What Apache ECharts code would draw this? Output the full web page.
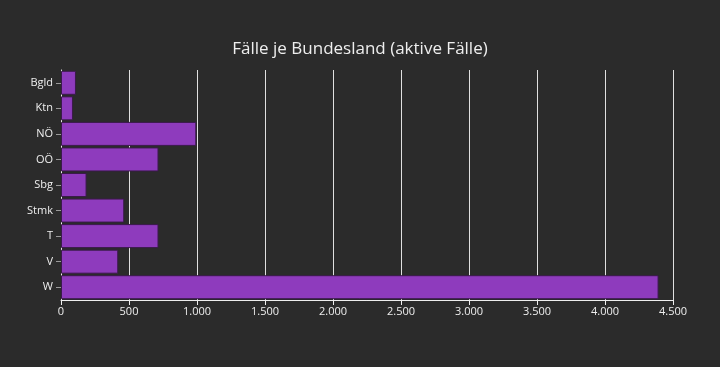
<!DOCTYPE html>
<html><head><meta charset="utf-8">
<script src="https://cdn.jsdelivr.net/npm/echarts@6/dist/echarts.min.js"></script>
<style>html,body{margin:0;padding:0;background:#2b2b2b;}#c{width:720px;height:367px;}</style>
</head><body><div id="c"></div>
<script>
const categories = ["Bgld","Ktn","NÖ","OÖ","Sbg","Stmk","T","V","W"];
const activeCases = [110, 88, 995, 717, 188, 465, 717, 421, 4394];
const xTicks = [0,500,1000,1500,2000,2500,3000,3500,4000,4500];

const chart = echarts.init(document.getElementById('c'), null, {renderer:'canvas'});
const fontFam = '"Open Sans", "Noto Sans", sans-serif';
chart.setOption({
  backgroundColor:'#2b2b2b',
  animation:false,
  title:{text:'Fälle je Bundesland (aktive Fälle)', left:'center', top:36,
    textStyle:{color:'#eeeeee', fontSize:17, fontWeight:'normal', fontFamily:fontFam}},
  grid:{left:61, right:47, top:70, bottom:67, containLabel:false},
  xAxis:{type:'value', min:xTicks[0], max:xTicks[xTicks.length-1], interval:500,
    axisLine:{show:true, lineStyle:{color:'#eeeeee', width:1}},
    axisTick:{show:true, length:5, lineStyle:{color:'#eeeeee'}},
    axisLabel:{color:'#eeeeee', fontSize:11, fontFamily:fontFam, margin:6,
      formatter:v=>v.toLocaleString('de-DE')},
    splitLine:{show:true, lineStyle:{color:'#e0e0e0', width:1}}},
  yAxis:{type:'category', data:categories, inverse:true,
    axisLine:{show:true, lineStyle:{color:'#eeeeee', width:1}},
    axisTick:{show:true, length:5, alignWithLabel:true, lineStyle:{color:'#999999'}},
    axisLabel:{color:'#eeeeee', fontSize:11, fontFamily:fontFam, margin:8}},
  series:[{type:'bar', data:activeCases, barCategoryGap:'6%',
    itemStyle:{color:'#8e3bbd', borderColor:'#3a1a4a', borderWidth:1}}]
});
</script></body></html>
